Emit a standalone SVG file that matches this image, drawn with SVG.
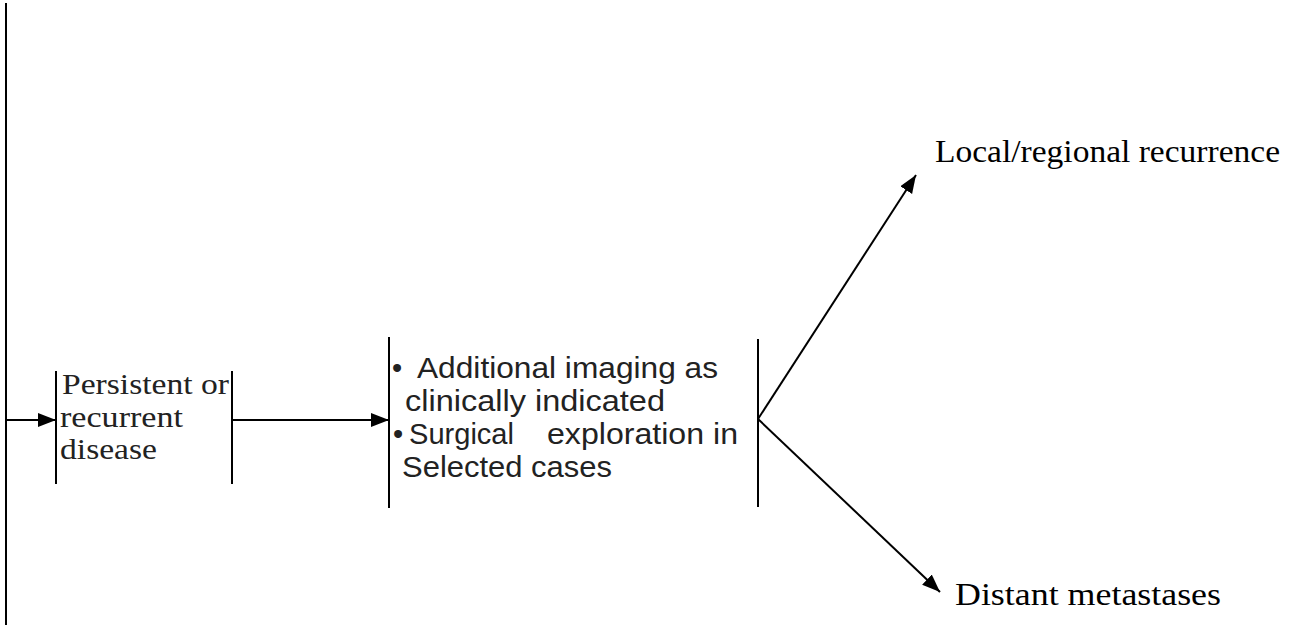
<svg xmlns="http://www.w3.org/2000/svg" width="1293" height="625" viewBox="0 0 1293 625">
<style>
.bar{stroke:#000;stroke-width:2;fill:none}
.edge{stroke:#000;stroke-width:2;fill:none}
.serif{font-family:"Liberation Serif","Times New Roman",serif;fill:#000}
.p{fill:#222;font-size:30px}
.sans{font-family:"Liberation Sans",Arial,sans-serif;fill:#222;font-size:29px}
</style>
<defs>
<marker id="ah" markerUnits="userSpaceOnUse" markerWidth="20" markerHeight="16" refX="18" refY="7" orient="auto">
<path d="M0,0 L18,7 L0,14 z" fill="#000"/>
</marker>
</defs>
<rect width="1293" height="625" fill="#fff"/>
<g id="spine">
<line class="bar" x1="6" y1="3" x2="6" y2="625"/>
</g>
<g id="node-persistent">
<line class="bar" x1="56" y1="371" x2="56" y2="484"/>
<line class="bar" x1="232" y1="371" x2="232" y2="484"/>
<text class="serif p" x="62" y="394" textLength="167" lengthAdjust="spacingAndGlyphs">Persistent or</text>
<text class="serif p" x="60" y="427" textLength="123" lengthAdjust="spacingAndGlyphs">recurrent</text>
<text class="serif p" x="60" y="459" textLength="97" lengthAdjust="spacingAndGlyphs">disease</text>
</g>
<g id="node-imaging">
<line class="bar" x1="389" y1="337" x2="389" y2="508"/>
<line class="bar" x1="758" y1="339" x2="758" y2="507"/>
<text class="sans" x="392" y="378">•</text>
<text class="sans" x="417" y="378" textLength="301" lengthAdjust="spacingAndGlyphs">Additional imaging as</text>
<text class="sans" x="405" y="411" textLength="260" lengthAdjust="spacingAndGlyphs">clinically indicated</text>
<text class="sans" x="393" y="444">•</text>
<text class="sans" x="409" y="444" textLength="105" lengthAdjust="spacingAndGlyphs">Surgical</text>
<text class="sans" x="547" y="444" textLength="191" lengthAdjust="spacingAndGlyphs">exploration in</text>
<text class="sans" x="402" y="477" textLength="210" lengthAdjust="spacingAndGlyphs">Selected cases</text>
</g>
<g id="node-local">
<text class="serif" font-size="31" x="935" y="162" textLength="345" lengthAdjust="spacingAndGlyphs">Local/regional recurrence</text>
</g>
<g id="node-distant">
<text class="serif" font-size="31" x="955" y="605" textLength="266" lengthAdjust="spacingAndGlyphs">Distant metastases</text>
</g>
<g id="connectors">
<line class="edge" x1="6" y1="420" x2="56" y2="420" marker-end="url(#ah)"/>
<line class="edge" x1="232" y1="420" x2="389" y2="420" marker-end="url(#ah)"/>
<line class="edge" x1="758" y1="419" x2="916" y2="175" marker-end="url(#ah)"/>
<line class="edge" x1="758" y1="419" x2="940" y2="592" marker-end="url(#ah)"/>
</g>
</svg>
